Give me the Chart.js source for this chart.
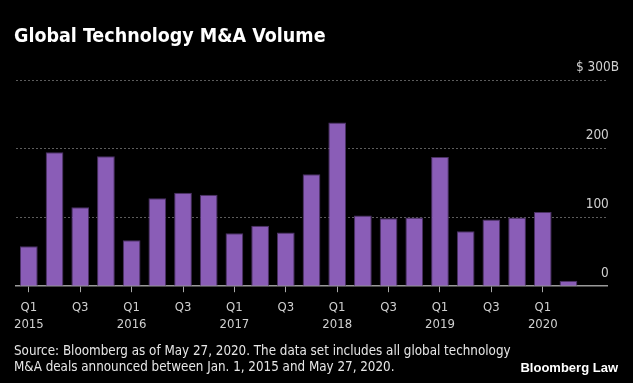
<!DOCTYPE html>
<html lang="en">
<head>
    <meta charset="UTF-8">
    <title>Global Technology M&amp;A Volume</title>
    <script src="https://cdn.jsdelivr.net/npm/chart.js"></script>
    <style>
        html, body {
            margin: 0;
            padding: 0;
            background: #000;
            width: 633px;
            height: 383px;
            overflow: hidden;
        }
        .wrap {
            position: relative;
            width: 633px;
            height: 383px;
        }
        canvas {
            position: absolute;
            left: 0;
            top: 0;
        }
        .title {
            position: absolute;
            left: 14px;
            top: 24px;
            color: #fff;
            font: bold 19.5px "DejaVu Sans Condensed", "DejaVu Sans", sans-serif;
            line-height: 24px;
        }
        .source {
            position: absolute;
            left: 14px;
            top: 343px;
            color: #e6e6e6;
            font: 13.3px "DejaVu Sans Condensed", "DejaVu Sans", sans-serif;
            line-height: 16px;
        }
        .brand {
            position: absolute;
            right: 15px;
            top: 360px;
            color: #fff;
            font: bold 13px "Liberation Sans", Arial, sans-serif;
        }
    </style>
</head>
<body>
    <div class="wrap">
        <canvas id="mnaChart" width="633" height="383"></canvas>
        <div class="title">Global Technology M&amp;A Volume</div>
        <div class="source">Source: Bloomberg as of May 27, 2020. The data set includes all global technology<br>M&amp;A deals announced between Jan. 1, 2015 and May 27, 2020.</div>
        <div class="brand">Bloomberg Law</div>
    </div>

    <script>
        // quarterly deal volume, $B
        const quarters = ['Q1 2015', 'Q2 2015', 'Q3 2015', 'Q4 2015',
                          'Q1 2016', 'Q2 2016', 'Q3 2016', 'Q4 2016',
                          'Q1 2017', 'Q2 2017', 'Q3 2017', 'Q4 2017',
                          'Q1 2018', 'Q2 2018', 'Q3 2018', 'Q4 2018',
                          'Q1 2019', 'Q2 2019', 'Q3 2019', 'Q4 2019',
                          'Q1 2020', 'Q2 2020', ''];
        const volume = [58, 195, 115, 189, 67, 128, 136, 133, 77, 88, 78, 163,
                        238, 103, 99, 100, 188, 80, 97, 100, 108, 8];
        const tickLabels = [['Q1', '2015'], '', 'Q3', '', ['Q1', '2016'], '', 'Q3', '',
                            ['Q1', '2017'], '', 'Q3', '', ['Q1', '2018'], '', 'Q3', '',
                            ['Q1', '2019'], '', 'Q3', '', ['Q1', '2020'], '', ''];
        const yTicks = [0, 100, 200, 300];
        const yTickLabels = ['0', '100', '200', '$ 300B'];

        const font = '"DejaVu Sans Condensed", "DejaVu Sans", sans-serif';

        let ctx = document.getElementById('mnaChart').getContext('2d');
        let mnaChart = new Chart(ctx, {
            type: 'bar',
            data: {
                labels: quarters,
                datasets: [{
                    label: 'Volume',
                    data: volume,
                    backgroundColor: '#8a5db7',
                    borderColor: '#4a3163',
                    borderWidth: 1,
                    barPercentage: 0.69,
                    categoryPercentage: 1
                }]
            },
            options: {
                responsive: false,
                animation: false,
                layout: { padding: { left: 16, right: 2, top: 80, bottom: 43 } },
                plugins: {
                    legend: { display: false },
                    tooltip: { enabled: false }
                },
                scales: {
                    x: {
                        grid: {
                            display: true,
                            drawOnChartArea: false,
                            offset: false,
                            tickLength: 6,
                            color: c => tickLabels[c.index] ? '#aaa' : 'transparent',
                            tickColor: c => tickLabels[c.index] ? '#aaa' : 'transparent'
                        },
                        border: { display: true, color: '#9a9a9a', width: 1.5 },
                        ticks: {
                            autoSkip: false,
                            maxRotation: 0,
                            padding: 7,
                            color: '#d0d0d0',
                            font: { family: font, size: 13, lineHeight: 1.3 },
                            callback: (v, i) => tickLabels[i]
                        }
                    },
                    y: {
                        position: 'right',
                        min: 0,
                        max: 300,
                        afterBuildTicks: axis => { axis.ticks = yTicks.map(v => ({ value: v })); },
                        grid: {
                            drawTicks: false,
                            color: c => c.tick && c.tick.value === 0 ? 'transparent' : '#5c5c5c',
                            lineWidth: 1
                        },
                        border: { display: false, dash: [2, 2] },
                        ticks: {
                            mirror: true,
                            padding: 12,
                            labelOffset: -13,
                            color: '#d0d0d0',
                            font: { family: font, size: 13.5 },
                            callback: v => {
                                const label = yTickLabels[yTicks.indexOf(v)];
                                return v === 300 ? label : label + '\u2007\u2009';
                            }
                        }
                    }
                }
            }
        });
    </script>
</body>
</html>
